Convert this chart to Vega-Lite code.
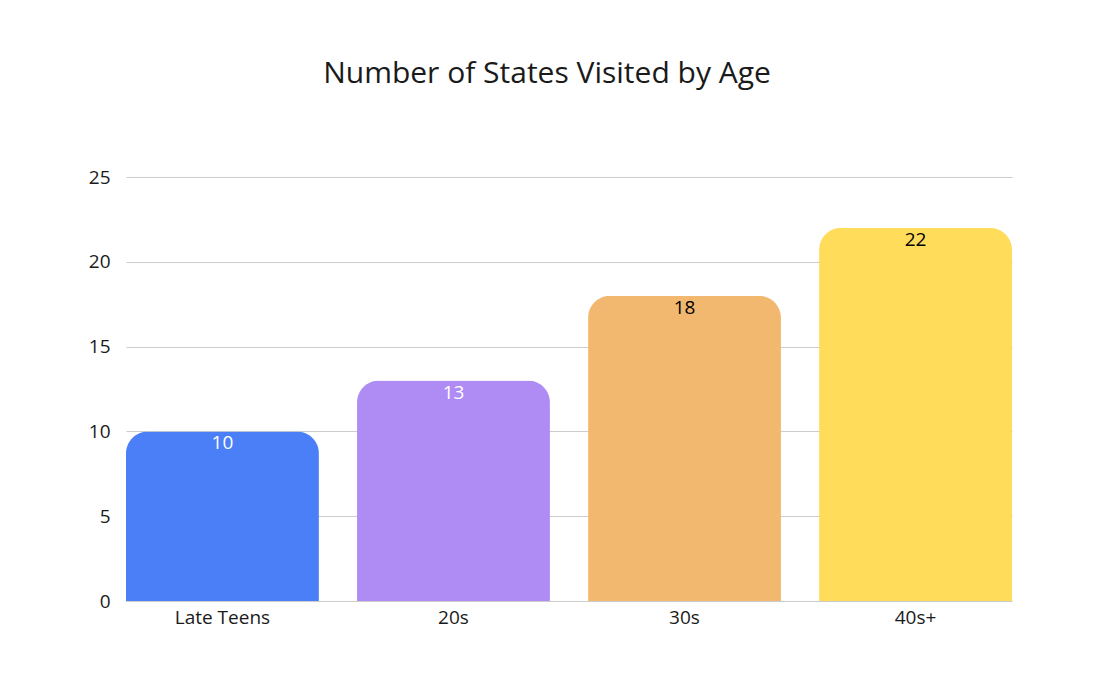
{
  "$schema": "https://vega.github.io/schema/vega-lite/v6.json",
  "width": 886,
  "height": 424,
  "autosize": "none",
  "padding": {"left": 126, "top": 177, "right": 88, "bottom": 86},
  "background": "white",
  "config": {
    "font": "Open Sans",
    "view": {"stroke": null}
  },
  "title": {
    "text": "Number of States Visited by Age",
    "fontSize": 30,
    "fontWeight": "normal",
    "color": "#1a1a1a",
    "offset": 79,
    "dx": -22
  },
  "data": {
    "values": [
      {"Age": "Late Teens", "States": 10, "Color": "#4A7FF7", "LabelColor": "white"},
      {"Age": "20s", "States": 13, "Color": "#AF8CF4", "LabelColor": "white"},
      {"Age": "30s", "States": 18, "Color": "#F3B86F", "LabelColor": "black"},
      {"Age": "40s+", "States": 22, "Color": "#FFDD5A", "LabelColor": "black"}
    ]
  },
  "encoding": {
    "x": {
      "field": "Age",
      "type": "nominal",
      "sort": null,
      "title": null,
      "scale": {"paddingInner": 0.165, "paddingOuter": 0},
      "axis": {
        "labelAngle": 0,
        "labelFontSize": 19,
        "labelColor": "#1a1a1a",
        "labelPadding": 7,
        "ticks": false,
        "domain": true,
        "domainColor": "#cccccc",
        "domainWidth": 1
      }
    },
    "y": {
      "field": "States",
      "type": "quantitative",
      "title": null,
      "scale": {"domain": [0, 25]},
      "axis": {
        "values": [0, 5, 10, 15, 20, 25],
        "labelFontSize": 19,
        "labelColor": "#1a1a1a",
        "labelPadding": 16,
        "ticks": false,
        "domain": false,
        "gridColor": "#cccccc",
        "gridWidth": 1
      }
    }
  },
  "layer": [
    {
      "mark": {"type": "bar", "cornerRadiusTopLeft": 22, "cornerRadiusTopRight": 22},
      "encoding": {
        "color": {"field": "Color", "type": "nominal", "scale": null, "legend": null}
      }
    },
    {
      "mark": {"type": "text", "baseline": "top", "dy": 3, "fontSize": 19},
      "encoding": {
        "text": {"field": "States", "type": "quantitative"},
        "color": {"field": "LabelColor", "type": "nominal", "scale": null, "legend": null}
      }
    }
  ]
}
